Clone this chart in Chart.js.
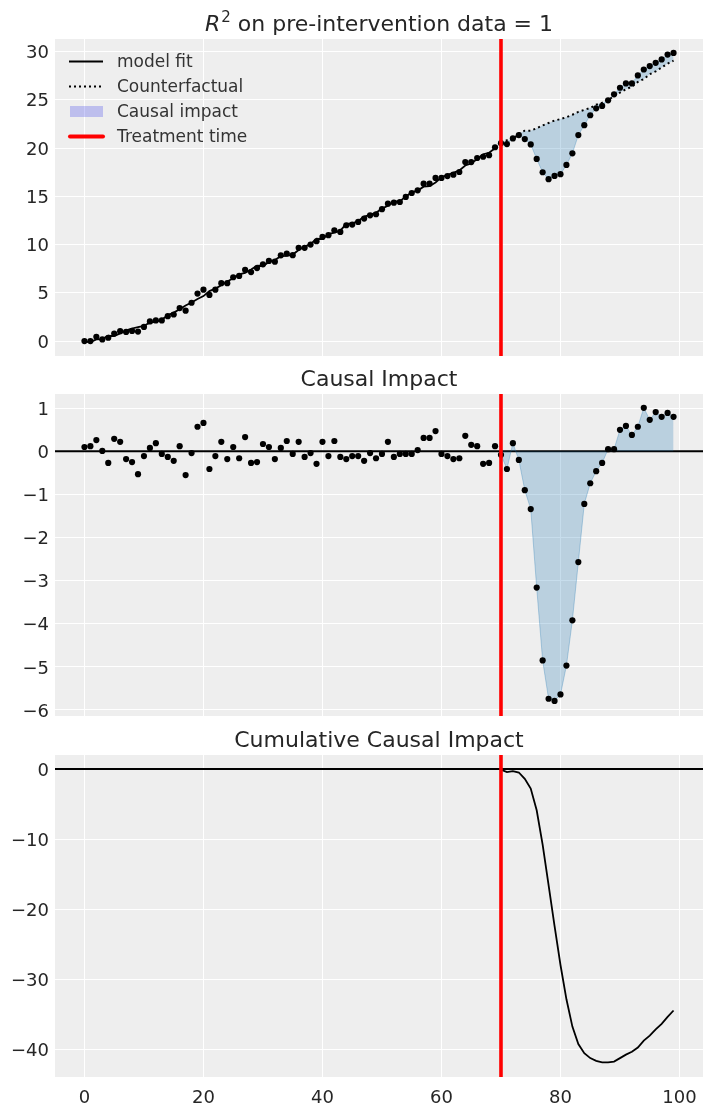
<!DOCTYPE html>
<html>
<head>
<meta charset="utf-8">
<script src="https://cdn.jsdelivr.net/npm/chart.js@4"></script>
<style>
html, body { margin: 0; padding: 0; background: #fff; }
#wrap { position: relative; width: 711px; height: 1111px; }
canvas { position: absolute; left: 0; }
</style>
</head>
<body>
<div id="wrap">
  <canvas id="c1" width="711" height="360" style="top:0px"></canvas>
  <canvas id="c2" width="711" height="360" style="top:360px"></canvas>
  <canvas id="c3" width="711" height="391" style="top:720px"></canvas>
</div>
<script>
const FONT = '"DejaVu Sans", sans-serif';
const treatmentTime = 70;

const timeIdx = [0,1,2,3,4,5,6,7,8,9,10,11,12,13,14,15,16,17,18,19,20,21,22,23,24,25,26,27,28,29,
  30,31,32,33,34,35,36,37,38,39,40,41,42,43,44,45,46,47,48,49,50,51,52,53,54,55,56,57,58,59,
  60,61,62,63,64,65,66,67,68,69,70,71,72,73,74,75,76,77,78,79,80,81,82,83,84,85,86,87,88,89,
  90,91,92,93,94,95,96,97,98,99];
const preIdx = timeIdx.slice(0, 70);
const postIdx = timeIdx.slice(70);

// observed data (dots, top panel)
const observed = [0.0,0.0,0.44,0.17,0.34,0.78,1.02,0.95,1.05,0.98,
  1.46,2.03,2.14,2.14,2.58,2.75,3.42,3.15,3.97,4.92,
  5.32,4.78,5.32,6.0,6.0,6.61,6.75,7.39,7.15,7.56,
  7.95,8.3,8.22,8.88,9.07,8.9,9.66,9.66,10.0,10.34,
  10.79,10.97,11.48,11.31,12.0,12.07,12.34,12.69,13.03,13.14,
  13.66,14.24,14.34,14.41,14.93,15.34,15.62,16.31,16.31,16.9,
  16.9,17.1,17.24,17.52,18.55,18.55,18.97,19.1,19.26,20.08,
  20.5,20.41,21.0,21.34,20.93,20.38,18.87,17.49,16.77,17.11,
  17.29,18.25,19.45,21.34,22.37,23.4,24.12,24.36,24.95,25.57,
  26.25,26.7,26.7,27.53,28.14,28.49,28.83,29.18,29.69,29.86];

// model fit on pre-intervention period
const modelFit = [-0.08,-0.1,0.18,0.2,0.55,0.52,0.8,1.1,1.3,1.45,
  1.58,1.92,1.98,2.2,2.68,2.95,3.3,3.68,4.0,4.35,
  4.66,5.17,5.43,5.78,6.17,6.5,6.9,7.06,7.42,7.8,
  7.78,8.2,8.4,8.8,8.83,8.96,9.44,9.79,10.04,10.6,
  10.57,11.08,11.24,11.44,12.15,12.18,12.45,12.9,13.07,13.3,
  13.72,14.02,14.47,14.47,14.99,15.4,15.59,16.0,16.05,16.43,
  16.96,17.21,17.42,17.68,18.19,18.4,18.85,19.36,19.51,19.98];

// counterfactual on post-intervention period
const counterfactual = [20.55,20.8,20.85,21.5,21.8,21.8,22.05,22.35,22.6,22.85,
  23.0,23.2,23.45,23.75,23.95,24.15,24.5,24.7,24.95,25.4,
  25.75,26.1,26.35,26.85,27.15,27.65,27.95,28.35,28.75,29.05];

// causal impact (middle panel dots)
const impact = [0.10,0.12,0.26,0.01,-0.27,0.29,0.22,-0.18,-0.25,-0.53,
  -0.11,0.08,0.19,-0.06,-0.13,-0.22,0.12,-0.55,-0.04,0.57,
  0.66,-0.41,-0.11,0.22,-0.18,0.10,-0.16,0.33,-0.27,-0.25,
  0.17,0.10,-0.18,0.08,0.24,-0.06,0.22,-0.13,-0.04,-0.29,
  0.22,-0.11,0.24,-0.13,-0.18,-0.11,-0.11,-0.22,-0.04,-0.16,
  -0.06,0.22,-0.13,-0.06,-0.06,-0.06,0.03,0.31,0.31,0.47,
  -0.06,-0.11,-0.18,-0.16,0.36,0.15,0.12,-0.29,-0.27,0.12,
  -0.08,-0.41,0.19,-0.20,-0.90,-1.34,-3.16,-4.85,-5.74,-5.79,
  -5.64,-4.97,-3.92,-2.57,-1.22,-0.74,-0.46,-0.27,0.05,0.05,
  0.50,0.59,0.38,0.57,1.01,0.73,0.91,0.80,0.89,0.80];

// cumulative causal impact (post-intervention)
const cumImpact = [-0.1,-0.45,-0.3,-0.5,-1.4,-2.8,-5.9,-10.8,-16.6,-22.4,
  -28.0,-32.9,-36.8,-39.3,-40.6,-41.3,-41.7,-41.9,-41.9,-41.8,
  -41.3,-40.8,-40.4,-39.8,-38.8,-38.1,-37.2,-36.4,-35.4,-34.5];

const xTicks = [0, 20, 40, 60, 80, 100];
const yTicksTop = [0, 5, 10, 15, 20, 25, 30];
const yTicksMid = [-6, -5, -4, -3, -2, -1, 0, 1];
const yTicksBot = [-40, -30, -20, -10, 0];

const legendLabels = ['model fit', 'Counterfactual', 'Causal impact', 'Treatment time'];

const FILL = 'rgba(31,119,180,0.25)';
const FILL_EDGE = 'rgba(31,119,180,0.3)';
const TEXT = '#262626';

function pts(xs, ys){ return xs.map((x, i) => ({ x, y: ys[i] })); }
function fmt(v){ return v < 0 ? '\u2212' + Math.abs(v) : String(v); }

function xScale(showLabels){
  return {
    type: 'linear', min: -4.95, max: 103.95,
    afterBuildTicks: s => { s.ticks = xTicks.map(v => ({ value: v })); },
    afterFit: s => { s.height = showLabels ? 34 : 0; s.paddingLeft = 0; s.paddingRight = 0; },
    grid: { color: '#ffffff', lineWidth: 1, drawTicks: false },
    border: { display: false },
    ticks: { display: showLabels, padding: 11, color: TEXT, maxRotation: 0,
      font: { family: FONT, size: 18 }, callback: fmt }
  };
}
function yScale(min, max, ticks){
  return {
    type: 'linear', min, max,
    afterBuildTicks: s => { s.ticks = ticks.map(v => ({ value: v })); },
    afterFit: s => { s.width = 55; s.paddingTop = 0; s.paddingBottom = 0; },
    grid: { color: '#ffffff', lineWidth: 1, drawTicks: false },
    border: { display: false },
    ticks: { padding: 6, labelOffset: 2, color: TEXT, font: { family: FONT, size: 18 }, callback: fmt }
  };
}

const bgPlugin = {
  id: 'bg',
  beforeDraw(chart){
    const { ctx, chartArea: a } = chart;
    ctx.save();
    ctx.fillStyle = '#eeeeee';
    ctx.fillRect(a.left, a.top, a.right - a.left, a.bottom - a.top);
    ctx.restore();
  }
};

function refLines(withZero){
  return {
    id: 'refLines',
    beforeDatasetsDraw(chart){
      if(!withZero) return;
      const { ctx, chartArea: a, scales } = chart;
      const y = scales.y.getPixelForValue(0);
      ctx.save();
      ctx.strokeStyle = '#000'; ctx.lineWidth = 2;
      ctx.beginPath(); ctx.moveTo(a.left, y); ctx.lineTo(a.right, y); ctx.stroke();
      ctx.restore();
    },
    afterDatasetsDraw(chart){
      const { ctx, chartArea: a, scales } = chart;
      const x = scales.x.getPixelForValue(treatmentTime);
      ctx.save();
      ctx.strokeStyle = '#ff0000'; ctx.lineWidth = 3.6;
      ctx.beginPath(); ctx.moveTo(x, a.top); ctx.lineTo(x, a.bottom); ctx.stroke();
      ctx.restore();
    }
  };
}

function titlePlugin(text, rich){
  return {
    id: 'panelTitle',
    afterDraw(chart){
      const { ctx, chartArea: a } = chart;
      const cx = (a.left + a.right) / 2;
      const base = a.top - 8;
      ctx.save();
      ctx.fillStyle = TEXT;
      ctx.textBaseline = 'alphabetic';
      if(rich){
        ctx.font = 'italic 22px ' + FONT;
        const wR = ctx.measureText('R').width;
        ctx.font = '15px ' + FONT;
        const w2 = ctx.measureText('2').width;
        ctx.font = '22px ' + FONT;
        const wT = ctx.measureText(text).width;
        let x = cx - (wR + w2 + 1 + wT) / 2;
        ctx.textAlign = 'left';
        ctx.font = 'italic 22px ' + FONT;
        ctx.fillText('R', x, base); x += wR + 1;
        ctx.font = '15px ' + FONT;
        ctx.fillText('2', x, base - 9); x += w2;
        ctx.font = '22px ' + FONT;
        ctx.fillText(text, x, base);
      } else {
        ctx.font = '22px ' + FONT;
        ctx.textAlign = 'center';
        ctx.fillText(text, cx, base);
      }
      ctx.restore();
    }
  };
}

const legendPlugin = {
  id: 'topLegend',
  afterDraw(chart){
    const { ctx, chartArea: a } = chart;
    const x0 = a.left + 14, x1 = a.left + 48, tx = a.left + 62;
    ctx.save();
    legendLabels.forEach((label, k) => {
      const y = a.top + 22.5 + k * 25;
      ctx.setLineDash([]);
      if(k === 0){
        ctx.strokeStyle = '#000'; ctx.lineWidth = 2;
        ctx.beginPath(); ctx.moveTo(x0, y); ctx.lineTo(x1, y); ctx.stroke();
      } else if(k === 1){
        ctx.strokeStyle = '#000'; ctx.lineWidth = 2; ctx.setLineDash([2, 3]);
        ctx.beginPath(); ctx.moveTo(x0, y); ctx.lineTo(x1, y); ctx.stroke();
      } else if(k === 2){
        ctx.fillStyle = 'rgba(42,46,236,0.25)';
        ctx.fillRect(x0 + 1, y - 5.5, x1 - x0 - 1, 11);
      } else {
        ctx.strokeStyle = '#ff0000'; ctx.lineWidth = 4; ctx.lineCap = 'round';
        ctx.beginPath(); ctx.moveTo(x0 + 1, y); ctx.lineTo(x1, y); ctx.stroke();
        ctx.lineCap = 'butt';
      }
      ctx.setLineDash([]);
      ctx.font = '17px ' + FONT;
      ctx.fillStyle = '#333';
      ctx.textAlign = 'left';
      ctx.textBaseline = 'middle';
      ctx.fillText(label, tx, y + 1);
    });
    ctx.restore();
  }
};

const common = {
  responsive: false,
  animation: false,
  events: [],
  plugins: { legend: { display: false }, tooltip: { enabled: false }, title: { display: false } }
};

// Top panel
new Chart(document.getElementById('c1'), {
  type: 'line',
  data: {
    datasets: [
      { label: 'observed', data: pts(timeIdx, observed), showLine: false,
        pointRadius: 3.1, pointBackgroundColor: '#000', pointBorderWidth: 0 },
      { label: 'model fit', data: pts(preIdx, modelFit), borderColor: '#000',
        borderWidth: 1.8, pointRadius: 0, fill: false, tension: 0 },
      { label: 'Counterfactual', data: pts(postIdx, counterfactual), borderColor: '#000',
        borderWidth: 2, borderDash: [2, 3.2], pointRadius: 0, fill: false, tension: 0 },
      { label: 'Causal impact', data: pts(postIdx, observed.slice(70)), borderColor: FILL_EDGE,
        borderWidth: 1, pointRadius: 0, backgroundColor: FILL, fill: 2, tension: 0 }
    ]
  },
  options: {
    ...common,
    layout: { padding: { left: 0, right: 8, top: 39, bottom: 2 } },
    scales: { x: xScale(false), y: yScale(-1.55, 31.3, yTicksTop) }
  },
  plugins: [bgPlugin, refLines(false), titlePlugin(' on pre-intervention data = 1', true), legendPlugin]
});

// Middle panel
new Chart(document.getElementById('c2'), {
  type: 'line',
  data: {
    datasets: [
      { label: 'impact', data: pts(timeIdx, impact), showLine: false,
        pointRadius: 3.1, pointBackgroundColor: '#000', pointBorderWidth: 0 },
      { label: 'impact area', data: pts(postIdx, impact.slice(70)), borderColor: FILL_EDGE,
        borderWidth: 1, pointRadius: 0, backgroundColor: FILL, fill: { value: 0 }, tension: 0 }
    ]
  },
  options: {
    ...common,
    layout: { padding: { left: 0, right: 8, top: 34, bottom: 4 } },
    scales: { x: xScale(false), y: yScale(-6.14, 1.33, yTicksMid) }
  },
  plugins: [bgPlugin, refLines(true), titlePlugin('Causal Impact', false)]
});

// Bottom panel
new Chart(document.getElementById('c3'), {
  type: 'line',
  data: {
    datasets: [
      { label: 'cumulative', data: pts(postIdx, cumImpact), borderColor: '#000',
        borderWidth: 1.8, pointRadius: 0, fill: false, tension: 0 }
    ]
  },
  options: {
    ...common,
    layout: { padding: { left: 0, right: 8, top: 35, bottom: 0 } },
    scales: { x: xScale(true), y: yScale(-44, 2.0, yTicksBot) }
  },
  plugins: [bgPlugin, refLines(true), titlePlugin('Cumulative Causal Impact', false)]
});
</script>
</body>
</html>
